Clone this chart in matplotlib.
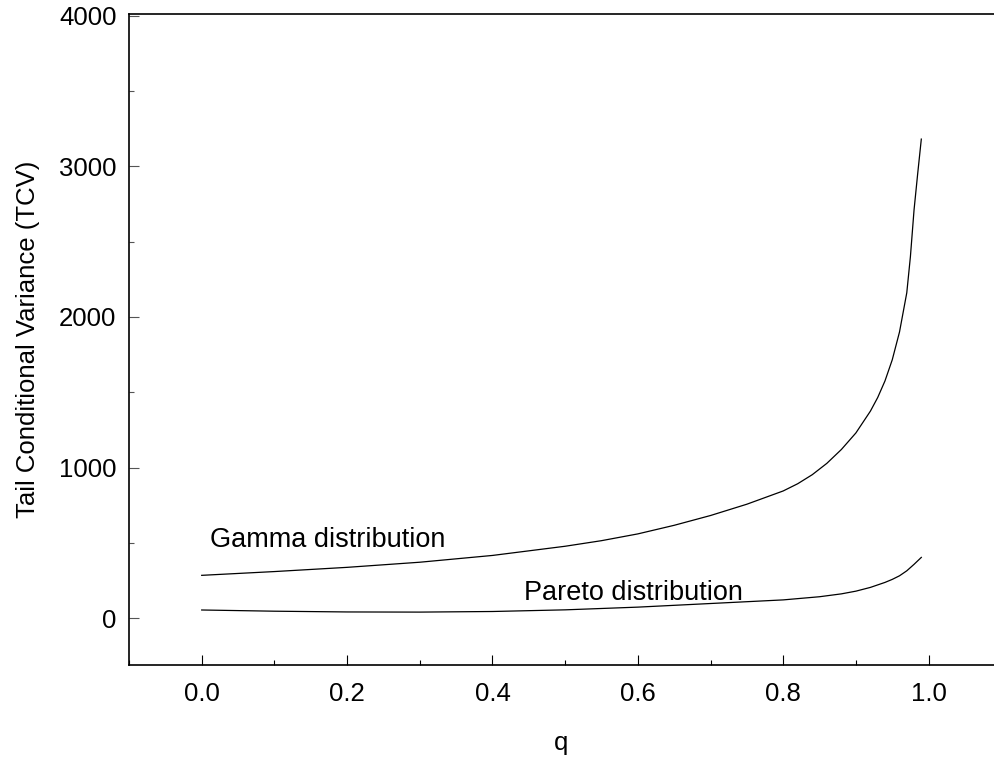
import matplotlib
matplotlib.use("Agg")
import matplotlib.pyplot as plt
from matplotlib.ticker import MultipleLocator

plt.rcParams["font.family"] = ["Liberation Sans", "DejaVu Sans"]

# values
q_gamma = [0.0, 0.1, 0.2, 0.3, 0.4, 0.5, 0.55, 0.6, 0.65, 0.7, 0.75, 0.8,
           0.82, 0.84, 0.86, 0.88, 0.9, 0.92, 0.93, 0.94, 0.95, 0.96, 0.97,
           0.975, 0.98, 0.985, 0.99]
tcv_gamma = [285, 310, 338, 372, 417, 478, 515, 560, 617, 682, 757, 845,
             893, 953, 1028, 1120, 1230, 1375, 1465, 1575, 1715, 1900, 2160,
             2400, 2710, 2950, 3180]

q_pareto = [0.0, 0.05, 0.1, 0.2, 0.3, 0.4, 0.5, 0.6, 0.7, 0.8, 0.85, 0.88,
            0.9, 0.92, 0.94, 0.95, 0.96, 0.97, 0.98, 0.99]
tcv_pareto = [55, 51, 47, 42, 41, 45, 56, 74, 98, 122, 143, 162,
              180, 205, 238, 258, 282, 315, 358, 404]

x_ticks = [0.0, 0.2, 0.4, 0.6, 0.8, 1.0]
y_ticks = [0, 1000, 2000, 3000, 4000]

fig = plt.figure(figsize=(9.94, 7.58), dpi=100)
ax = fig.add_axes([0.1298, 0.1227, 0.8702, 0.8588])

ax.plot(q_gamma, tcv_gamma, color="black", lw=0.9)
ax.plot(q_pareto, tcv_pareto, color="black", lw=0.9)

ax.text(0.011, 470, "Gamma distribution", fontsize=19.5, ha="left", va="baseline")
ax.text(0.444, 119, "Pareto distribution", fontsize=19.5, ha="left", va="baseline")

ax.set_xlim(-0.1, 1.09)
ax.set_ylim(-310, 4010)
ax.set_xticks(x_ticks)
ax.set_xticklabels([f"{v:.1f}" for v in x_ticks])
ax.set_yticks(y_ticks)
ax.xaxis.set_minor_locator(MultipleLocator(0.1))
ax.yaxis.set_minor_locator(MultipleLocator(500))
ax.tick_params(which="both", direction="in", labelsize=18.5, width=0.8)
ax.tick_params(which="major", length=7)
ax.tick_params(which="minor", length=3.5)
ax.tick_params(axis="y", which="both", color="#555555")
ax.tick_params(axis="x", pad=12)
ax.tick_params(axis="y", pad=9)

ax.spines["right"].set_visible(False)
for s in ["left", "bottom", "top"]:
    ax.spines[s].set_linewidth(1.2)

ax.set_xlabel("q", fontsize=18.5, labelpad=18)
ax.set_ylabel("Tail Conditional Variance (TCV)", fontsize=18.5, labelpad=14)

fig.savefig("out.png", dpi=100)
